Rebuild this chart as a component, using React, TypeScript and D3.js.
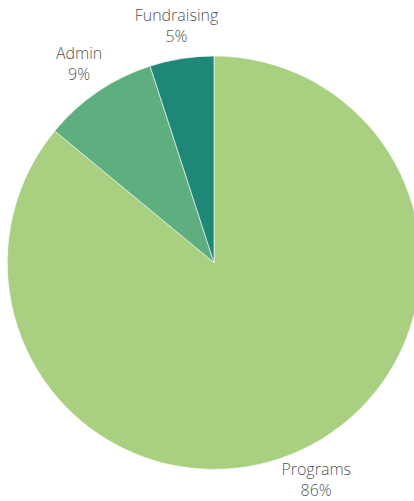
import React, { useEffect, useRef } from "react";
import * as d3 from "d3";

const categories = ["Programs", "Admin", "Fundraising"];
const shares = [86, 9, 5];
const colors = ["#a9cf80", "#5fae7f", "#1f8777"];

const width = 414,
  height = 501;
const cx = 214,
  cy = 262.7,
  radius = 206.7,
  labelRadius = 240;

export default function App(): JSX.Element {
  const ref = useRef<SVGSVGElement>(null);

  useEffect(() => {
    if (!ref.current) return;
    const svg = d3.select(ref.current);
    svg.selectAll("*").remove();

    const data = categories.map((c, i) => ({ name: c, value: shares[i] }));

    const pie = d3
      .pie<{ name: string; value: number }>()
      .sort(null)
      .value((d) => d.value);
    const arcs = pie(data);

    const arc = d3
      .arc<d3.PieArcDatum<{ name: string; value: number }>>()
      .innerRadius(0)
      .outerRadius(radius);

    const label = d3
      .arc<d3.PieArcDatum<{ name: string; value: number }>>()
      .innerRadius(labelRadius)
      .outerRadius(labelRadius);

    const g = svg.append("g").attr("transform", `translate(${cx},${cy})`);

    g.selectAll("path")
      .data(arcs)
      .join("path")
      .attr("d", arc)
      .attr("fill", (d, i) => colors[i])
      .attr("stroke", "#ffffff")
      .attr("stroke-width", 0.6);

    const texts = g
      .selectAll("text")
      .data(arcs)
      .join("text")
      .attr("transform", (d) => {
        const [x, y] = label.centroid(d);
        return `translate(${x},${y})`;
      })
      .attr("text-anchor", "middle")
      .attr("font-family", "'Open Sans', sans-serif")
      .attr("font-size", 16)
      .attr("font-weight", 300)
      .attr("fill", "#555555");

    texts
      .append("tspan")
      .attr("x", 0)
      .attr("y", -5)
      .text((d) => d.data.name);
    texts
      .append("tspan")
      .attr("x", 0)
      .attr("y", 16)
      .text((d) => `${d.data.value}%`);
  }, []);

  return (
    <svg
      ref={ref}
      width={width}
      height={height}
      style={{ position: "absolute", left: 0, top: 0, display: "block" }}
    />
  );
}
